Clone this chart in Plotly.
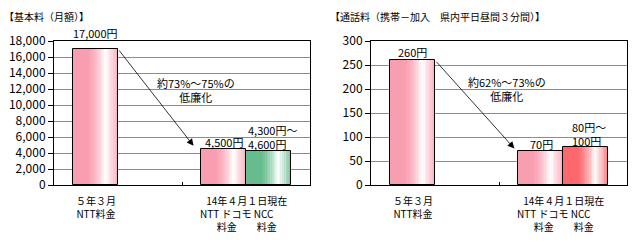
import plotly.graph_objects as go

# ---- data ----
left_title = "【基本料（月額）】"
right_title = "【通話料（携帯－加入　県内平日昼間３分間）】"

left_ntt = [17000, 4500]
left_ncc = [None, 4300]
right_ntt = [260, 70]
right_ncc = [None, 80]

left_ntt_labels = ["17,000円", "4,500円"]
left_ncc_labels = [None, "4,300円～<br>4,600円"]
right_ntt_labels = ["260円", "70円"]
right_ncc_labels = [None, "80円～<br>100円"]

cat_labels = ["５年３月<br>NTT料金",
              "14年４月１日現在<br>NTT ドコモ NCC　　<br>料金　　料金"]

left_note = "約73%～75%の<br>低廉化"
right_note = "約62%～73%の<br>低廉化"

left_yticks = [0, 2000, 4000, 6000, 8000, 10000, 12000, 14000, 16000, 18000]
right_yticks = [0, 50, 100, 150, 200, 250, 300]

FONT = "Noto Sans CJK JP, Noto Sans, sans-serif"
PINK = (249, 158, 176)
GREEN = (102, 188, 140)
RED = (252, 104, 108)

W = 0.35
N = 26


def whiteness(t):
    if t < 0.3:
        return 0.0
    if t < 0.72:
        u = (t - 0.3) / 0.42
        return u ** 1.6
    return 1.0 - (t - 0.72) / 0.28 * 0.85


def mix(c, f):
    return "rgb(%d,%d,%d)" % tuple(round(a + (255 - a) * f) for a in c)


fig = go.Figure()
xpos = [0, 1]


def add_bars(values, offset, color, xa, ya):
    for i in range(N):
        t = (i + 0.5) / N
        fig.add_trace(go.Bar(
            x=xpos, y=values, offset=offset + i * W / N, width=W / N * 1.4 if i < N - 1 else W / N,
            marker=dict(color=mix(color, whiteness(t)), line=dict(width=0)),
            xaxis=xa, yaxis=ya, showlegend=False, hoverinfo="skip"))
    fig.add_trace(go.Bar(
        x=xpos, y=values, offset=offset, width=W,
        marker=dict(color="rgba(0,0,0,0)", line=dict(color="black", width=1)),
        xaxis=xa, yaxis=ya, showlegend=False, hoverinfo="skip"))


add_bars(left_ntt, -W, PINK, "x", "y")
add_bars(left_ncc, 0, GREEN, "x", "y")
add_bars(right_ntt, -W, PINK, "x2", "y2")
add_bars(right_ncc, 0, RED, "x2", "y2")

ann = []


def txt(text, x, y, xref, yref, yshift=0, xanchor="center", yanchor="middle", size=11,
        align="center"):
    ann.append(dict(text=text, x=x, y=y, xref=xref, yref=yref, yshift=yshift,
                    xanchor=xanchor, yanchor=yanchor, showarrow=False, align=align,
                    borderpad=0,
                    font=dict(family=FONT, size=size, color="black")))


# value labels
txt(left_ntt_labels[0], -W / 2, left_ntt[0], "x", "y", yshift=16)
txt(left_ntt_labels[1], 1 - W / 2, left_ntt[1], "x", "y", yshift=7)
txt(left_ncc_labels[1], 1.005, left_ncc[1], "x", "y", yshift=14, xanchor="left", align="left")
txt(right_ntt_labels[0], -W / 2, right_ntt[0], "x2", "y2", yshift=8)
txt(right_ntt_labels[1], 1 - W / 2 + 0.01, right_ntt[1], "x2", "y2", yshift=7)
txt(right_ncc_labels[1], 1.065, right_ncc[1], "x2", "y2", yshift=13, xanchor="left", align="left")

# notes
txt(left_note, 0.61, 11900, "x", "y")
txt(right_note, 0.56, 199, "x2", "y2")

# arrows
ann.append(dict(x=0.59, y=4900, ax=0, ay=left_ntt[0], xref="x", yref="y", axref="x", ayref="y",
                showarrow=True, arrowhead=2, arrowsize=1.7, arrowwidth=0.8, arrowcolor="black", text=""))
ann.append(dict(x=0.62, y=76, ax=0, ay=right_ntt[0], xref="x2", yref="y2", axref="x2", ayref="y2",
                showarrow=True, arrowhead=2, arrowsize=1.7, arrowwidth=0.8, arrowcolor="black", text=""))

# category labels
for xa in ("x", "x2"):
    txt(cat_labels[0], -W / 2, 1 - 207 / 242, xa, "paper", size=10)
    txt(cat_labels[1], 1, 1 - 213.5 / 242, xa, "paper", size=10)

# titles
txt(left_title, 3 / 638, 1 - 16 / 242, "paper", "paper", xanchor="left", size=10)
txt(right_title, 329 / 638, 1 - 16 / 242, "paper", "paper", xanchor="left", size=10)

xcommon = dict(range=[-0.5, 1.5], tickvals=[0.5], ticktext=[""], ticks="inside", ticklen=3,
               tickcolor="black", showgrid=False, zeroline=False, showline=True,
               linecolor="black", linewidth=1, mirror=True, fixedrange=True, automargin=False)
ycommon = dict(ticks="outside", ticklen=5, tickcolor="black", showgrid=True, gridcolor="#8c8c8c",
               gridwidth=1, zeroline=False, showline=True, linecolor="black", linewidth=1,
               mirror=True, tickfont=dict(family=FONT, size=12, color="black"),
               ticklabelstandoff=0, automargin=False)

ydom = [1 - 185 / 242, 1 - 41 / 242]
fig.update_layout(
    width=638, height=242, margin=dict(l=0, r=0, t=0, b=0, autoexpand=False),
    paper_bgcolor="white", plot_bgcolor="white", barmode="overlay", bargap=0,
    xaxis=dict(domain=[54 / 638, 310 / 638], anchor="y", **xcommon),
    xaxis2=dict(domain=[371 / 638, 627 / 638], anchor="y2", **xcommon),
    yaxis=dict(domain=ydom, anchor="x", range=[0, 18000], tickvals=left_yticks,
               tickformat=",d", **ycommon),
    yaxis2=dict(domain=ydom, anchor="x2", range=[0, 300], tickvals=right_yticks, **ycommon),
    annotations=ann,
    font=dict(family=FONT, size=11, color="black"),
)

fig.write_html("out.html")
